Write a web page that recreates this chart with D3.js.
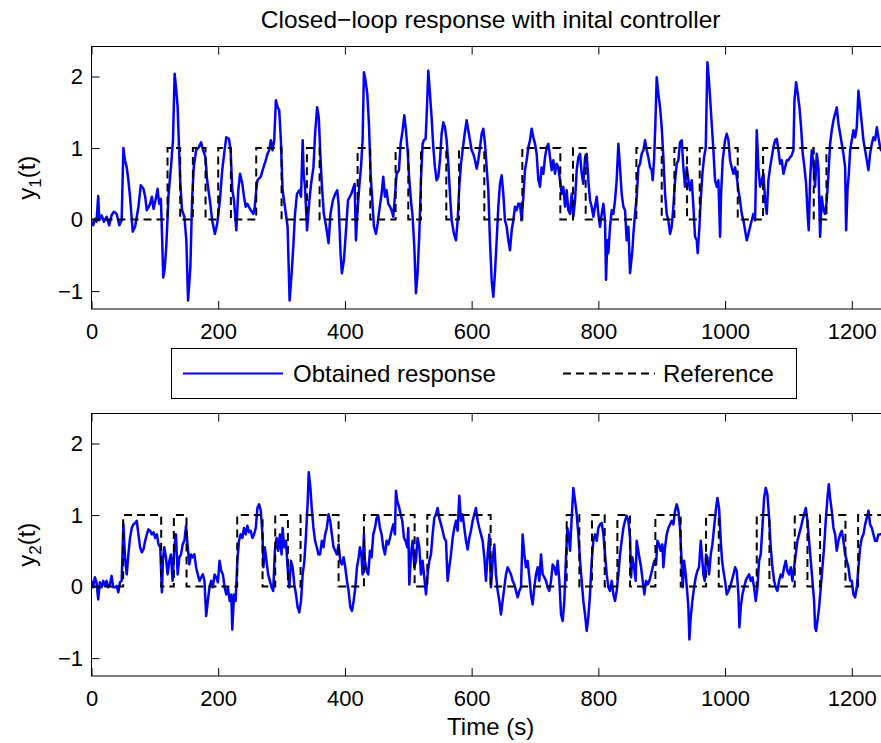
<!DOCTYPE html>
<html>
<head>
<meta charset="utf-8">
<script src="https://cdn.jsdelivr.net/npm/d3@7"></script>
<style>
  html, body { margin: 0; padding: 0; background: #fff; }
  svg { display: block; font-family: "Liberation Sans", Arial, Helvetica, sans-serif; }
</style>
</head>
<body>
<svg id="chart" width="881" height="743"></svg>
<script>
// ---- Output 1: sampled closed-loop response ----
const y1Time = [0,2.6,5.3,7.9,10.6,12.2,15.9,19.6,23.8,28,31.7,35.4,39.7,43.9,47.6,50.3,52.9,55.6,58.2,60.8,65.1,68.8,74.1,77.8,82,84.7,87.3,92.6,95.2,97.9,102.1,104.2,106.9,109.5,111.6,113.2,115.3,118,121.7,125.4,128.6,131.2,133.9,136,138.1,140.2,142.9,146.6,149.7,152.4,156.1,158.7,161.4,165.1,169.3,173,176.2,179.9,182.5,186.8,190.5,194.7,198.4,202.6,206.3,210.1,212.7,216.9,219.6,222.2,224.9,228.6,231.7,234.4,238.1,240.7,243.4,246,251.3,255.6,257.7,259.8,261.9,267.2,271.4,275.1,277.8,280.4,283.1,285.7,288.4,291,293.7,296.3,298.9,301.6,305.3,309.5,312.7,315.9,318.5,321.2,324.3,328,330.7,333.3,334.9,337,340.2,343.9,346.6,350.3,352.9,356.1,358.7,361.4,363.5,366.7,370.4,374.1,377.2,381,384.7,387.8,390,393.1,395.2,398.4,402.1,404.8,410,415.3,
  417.4,419.5,422.6,425.3,427.9,430,432.6,435.3,437.9,440.5,443.2,445.8,449,451.6,454.2,457.9,460.5,463.2,465.8,468.4,471.1,473.7,476.3,478.9,481.6,485.3,487.9,491.1,493.7,496.3,498.9,501.6,504.2,506.8,509.5,512.1,514.7,517.4,520,522.6,524.7,527.4,529.5,531.6,534.2,536.8,539.5,542.1,544.7,547.4,550,552.6,555.3,557.9,560.5,563.2,565.8,568.4,572.1,575.3,577.9,580.5,583.2,585.8,589,592.1,594.7,597.4,600,602.6,605.3,607.9,610.5,613.2,615.8,618.4,621.1,623.7,626.3,628.9,631.6,634.2,636.8,639.5,642.1,644.7,647.4,650,652.6,655.3,657.9,660.5,663.2,665.8,668.4,671.1,673.7,676.3,678.9,681.6,684.2,686.8,689.5,692.1,694.7,697.4,700,702.6,705.3,707.9,710.5,713.2,715.8,718.4,721.1,723.7,726.3,728.9,731.6,734.2,736.8,739.5,742.1,744.7,747.4,750,752.6,755.3,757.9,760.5,763.2,765.8,768.4,771.1,773.7,776.3,779,781.6,784.2,786.8,789.5,792.1,794.7,797.4,800,802.6,805.3,807.9,810.5,812.1,814.2,815.8,818.4,821.1,823.7,826.3,828.9,831.6,834.2,836.8,839.5,842.1,844.7,847.4,850,
  853.7,855.3,857.9,860.5,863.2,865.8,868.4,871.1,873.7,876.3,878.9,881.6,884.2,885.8,887.9,890,892.1,894.7,897.4,900,902.6,905.3,907.9,910.5,913.2,915.8,918.4,921.1,923.7,926.3,928.9,931.6,934.2,936.8,939.5,942.1,944.7,947.4,950,952.6,955.3,956.8,959.5,961.6,964.2,966.8,969.5,972.1,974.2,976.3,978.9,981.6,984.2,986.8,989.5,992.1,993.7,996.3,1000,1002.6,1005.3,1007.9,1010.5,1013.2,1015.8,1018.4,1021.1,1023.7,1026.3,1028.9,1031.6,1034.2,1036.8,1039.5,1042.1,1044.7,1047.4,1050,1052.6,1055.3,1057.9,1060.5,1063.2,1065.8,1068.4,1071.1,1073.7,1076.3,1078.9,1081.6,1084.2,1086.8,1089.5,1092.1,1094.7,1097.4,1100,1102.6,1105.3,1107.9,1109.5,1112.1,1114.7,1117.4,1120,1122.6,1125.3,1127.9,1130.5,1132.1,1134.2,1136.8,1139.5,1142.1,1144.7,1147.4,1150,1152.6,1155.3,1157.9,1160.5,1163.2,1165.8,1168.4,1171.1,1173.7,1176.3,1178.9,1181.6,1184.2,1186.8,1189.5,1191.1,1193.2,1195.3,1197.4,1200,1202.6,1205.3,1207.9,1210.5,1213.2,1215.8,1218.4,1221.1,1223.7,1226.3,1228.9,1231.6,1234.2,1236.8,1239.5,1242.1,1244.7,1246.3,1250,1255,1260];
const y1Value = [-0.03,-0.08,0.01,-0.03,0.33,-0.01,0.06,-0.03,0.04,-0.08,0.06,0.11,0.08,-0.08,-0.01,1.0,0.83,0.73,0.55,0.32,-0.17,-0.1,0.18,0.48,0.43,0.32,0.13,0.22,0.32,0.15,0.32,0.43,0.22,0.29,-0.29,-0.81,-0.71,-0.38,0.36,0.73,1.11,2.04,1.8,1.57,1.01,0.5,0.13,0.04,-0.29,-1.13,-0.66,0.27,0.73,0.97,1.01,1.08,0.97,0.87,0.55,0.27,-0.01,-0.2,-0.06,0.27,0.69,0.97,1.15,1.13,0.97,0.41,0.27,-0.15,0.41,0.64,0.5,0.32,0.18,0.22,0.13,0.08,0.18,0.39,0.55,0.6,0.73,0.83,0.92,0.97,1.11,0.97,1.11,1.67,1.57,1.53,1.11,0.41,0.18,-0.1,-1.13,-0.75,-0.38,0.08,0.36,0.41,0.32,1.11,0.64,0.46,-0.15,0.27,0.5,0.73,1.2,1.57,1.43,0.87,0.5,0.08,-0.1,-0.33,0.08,0.27,0.36,0.41,0.22,-0.47,-0.75,-0.57,-0.1,0.27,0.36,0.5,
  -0.29,0.08,0.46,0.73,1.11,2.06,1.94,1.76,1.34,0.64,0.27,-0.1,-0.2,-0.06,0.13,0.36,0.6,0.32,0.41,0.22,0.18,0.13,0.04,0.32,0.64,0.69,1.06,1.25,1.46,1.25,0.97,0.55,0.27,0.04,-0.38,-1.03,-0.75,-0.2,0.55,1.06,1.11,1.13,1.57,2.08,1.76,1.43,1.01,0.73,0.55,0.6,0.83,1.2,1.36,1.29,1.11,0.78,0.36,-0.01,-0.2,-0.29,-0.01,0.46,0.78,0.97,1.2,1.39,1.25,1.11,0.97,0.92,0.83,0.71,0.83,1.01,1.2,1.27,1.06,0.73,0.41,-0.29,-0.85,-1.08,-0.75,-0.29,0.18,0.5,0.62,0.36,-0.01,-0.1,-0.29,-0.43,-0.15,-0.01,0.18,0.13,0.22,0.22,-0.01,0.32,0.69,0.83,1.01,1.11,1.27,1.15,1.06,0.92,0.55,0.46,0.73,0.64,0.87,1.01,1.06,0.87,0.69,0.83,0.64,0.78,0.73,0.55,0.36,0.46,0.18,0.41,0.13,0.08,0.36,0.04,0.27,0.69,0.87,0.92,0.64,0.5,0.87,0.92,0.55,0.27,0.18,0.04,0.18,0.32,0.08,-0.1,0.08,0.22,-0.01,-0.84,-0.29,-0.47,-0.1,0.13,0.08,0.27,0.55,1.06,0.73,0.36,0.18,0.13,-0.29,-0.1,-0.75,
  -0.43,-0.2,0.08,0.32,0.73,0.78,0.92,0.97,1.11,0.97,0.87,0.73,0.69,0.55,0.83,1.34,1.99,1.76,1.57,1.29,0.87,0.36,0.08,-0.01,-0.2,-0.1,0.18,0.55,0.78,0.83,1.08,1.11,0.73,0.46,0.73,0.55,0.41,0.55,0.18,-0.24,-0.29,-0.47,-0.1,0.27,0.64,0.87,1.01,2.2,1.99,1.71,1.34,0.97,0.55,0.46,0.55,-0.24,0.36,0.83,1.11,1.2,1.11,0.83,0.73,0.64,0.73,0.6,0.41,0.27,0.08,-0.01,-0.15,-0.29,-0.2,-0.1,-0.01,0.08,-0.01,1.25,0.73,0.46,0.55,0.64,0.27,0.08,0.55,0.73,0.87,1.01,1.11,1.13,0.97,0.78,0.83,0.64,0.73,0.83,0.83,0.87,0.9,0.97,1.67,1.92,1.76,1.57,1.29,0.92,0.73,0.5,0.04,-0.15,0.55,0.97,0.78,0.46,0.92,0.73,-0.24,0.32,0.13,0.08,0.27,0.64,1.06,1.25,1.39,1.48,1.57,1.34,1.2,1.06,0.92,0.73,-0.15,0.41,0.64,0.97,1.11,1.25,1.15,1.29,1.8,1.57,1.34,1.11,0.97,0.83,0.69,0.92,1.06,1.15,1.11,1.29,1.15,1.01,0.97,1.0,1.0,1.0];

// ---- Output 2: sampled closed-loop response ----
const y2Time = [0,2.6,5.3,7.9,10.6,13.2,15.9,18.5,21.2,23.8,26.5,29.1,31.7,34.4,37,39.7,42.3,45,47.6,50.3,52.9,55.6,58.2,60.8,63.5,66.1,68.8,71.4,74.1,76.7,79.4,82,84.7,87.3,89.9,92.6,95.2,97.9,100.5,103.2,105.8,108.5,111.1,112.7,114.8,117.5,120.1,122.8,125.4,128,130.7,133.3,136,138.6,141.3,143.9,146.6,149.2,151.9,154.5,157.1,159.8,162.4,165.1,167.7,170.4,173,175.7,178.3,181,183.6,186.2,188.9,191.5,194.2,196.8,199.5,202.1,204.8,207.4,210.1,212.7,215.3,218,220.6,222.2,224.9,227.5,230.2,232.8,235.4,238.1,240.7,243.4,246,248.7,251.3,254,256.6,259.3,261.9,264.6,267.2,269.8,271.4,273.5,276.2,278.8,281.5,284.1,286.8,289.4,292.1,294.7,297.4,300,301.6,304.2,306.9,309.5,312.2,314.8,317.5,320.1,322.8,325.4,328,330.7,333.3,336,338.6,341.3,342.9,345.5,347.6,350.3,352.9,355.6,358.2,360.8,363.5,366.1,368.8,371.4,374.1,376.7,379.4,382,384.7,387.3,390,392.6,395.2,397.9,400.5,403.2,405.8,408.5,411.1,413.8,416.4,419,421.7,
  423.7,426.3,427.9,430,431.6,434.2,436.8,439.5,442.1,444.7,447.4,450,452.6,455.3,457.9,460.5,463.2,465.8,468.4,471.1,473.7,476.3,478.9,480.5,482.6,485.8,487.9,490.5,493.2,495.8,498.4,500,501.6,504.2,506.8,509.5,512.1,514.7,517.4,520,522.6,525.3,527.9,530.5,533.2,535.8,538.4,541.1,543.7,546.3,548.9,551.6,554.2,556.8,559.5,562.1,564.7,567.4,570,572.6,575.3,577.9,580.5,583.2,585.8,588.4,591.1,593.7,596.3,598.9,601.6,604.2,606.8,609.5,612.1,614.7,617.4,620,622.6,625.3,627.9,630.5,633.2,635.8,638.4,641.1,643.7,646.3,648.9,651.6,654.2,656.8,659.5,662.1,664.7,667.4,670,672.6,675.3,677.9,680.5,683.2,685.8,688.4,691.1,693.7,696.3,698.9,701.6,704.2,706.8,709.5,712.1,714.7,717.4,720,722.6,725.3,727.9,730.5,733.2,735.8,738.4,741.1,743.7,746.3,748.9,751.1,753.2,755.3,757.9,760.5,763.2,765.8,768.4,771.1,773.7,776.3,779,781.6,784.2,786.8,789.5,792.1,794.7,797.4,800,802.6,805.3,807.9,810.5,813.2,815.8,818.4,821.1,823.7,826.3,828.9,831.6,834.2,836.8,839.5,842.1,844.7,847.4,
  850,851.6,853.7,856.3,858.9,860.5,862.1,864.7,867.4,870,872.6,875.3,877.9,880.5,883.2,885.8,888.4,891.1,893.2,895.8,898.4,901.1,902.6,905.3,907.9,910.5,913.2,915.8,918.4,921.1,923.7,926.3,928.9,931.1,933.2,935.3,937.9,940.5,942.1,943.7,945.8,948.4,951.1,953.7,956.3,958.9,961.6,963.7,965.8,967.9,970,972.1,974.7,977.4,980,982.6,985.3,987.9,990.5,993.2,995.3,997.4,1000,1002.6,1005.3,1007.9,1010.5,1013.2,1015.8,1018.4,1021.1,1022.6,1024.7,1027.4,1030,1032.6,1035.3,1037.9,1040.5,1043.2,1045.8,1048.4,1051.1,1053.7,1056.3,1058.9,1061.6,1064.2,1066.8,1069.5,1072.1,1074.7,1077.4,1080,1082.6,1085.3,1087.9,1090.5,1093.2,1095.8,1098.4,1101.1,1103.7,1106.3,1108.9,1111.6,1114.2,1116.8,1119.5,1122.1,1124.7,1127.4,1130,1132.6,1135.3,1137.9,1140.5,1142.1,1143.7,1145.8,1148.4,1151.1,1153.7,1156.3,1158.9,1161.6,1163.7,1165.8,1168.4,1171.1,1173.7,1176.3,1178.9,1181.6,1184.2,1186.8,1189.5,1192.1,1194.7,1197.4,1200,1202.6,1205.3,1207.9,1210.5,1213.2,1215.8,1218.4,1221.1,1223.7,1226.3,1228.9,1231.6,1234.2,1236.8,1239.5,1242.1,1244.7,1250,1255,1260];
const y2Value = [0.08,-0.01,0.13,0.06,-0.18,0.06,-0.01,0.08,0.01,0.08,-0.01,0.03,0.15,-0.01,-0.01,0.01,-0.08,0.06,0.08,0.87,0.41,0.17,0.45,0.68,0.82,0.87,0.89,0.92,0.73,0.55,0.48,0.52,0.64,0.73,0.8,0.78,0.73,0.76,0.68,0.73,0.59,0.55,-0.08,0.36,0.55,0.41,0.17,0.36,0.45,0.08,0.55,0.73,0.17,0.41,0.45,0.59,0.64,0.85,0.55,0.31,0.45,0.41,0.45,0.27,0.17,0.08,0.13,0.17,0.08,-0.41,-0.2,-0.01,0.08,-0.01,0.17,0.13,0.06,0.36,0.22,0.17,-0.01,-0.11,-0.01,-0.2,-0.11,-0.6,-0.11,-0.2,0.36,0.64,0.73,0.68,0.82,0.73,0.85,0.76,0.78,0.68,0.73,0.82,1.1,1.15,1.06,0.73,0.27,0.55,0.36,0.17,0.08,-0.01,-0.06,0.5,0.68,0.5,0.73,0.45,0.82,0.55,0.64,0.27,-0.01,0.36,0.27,0.03,-0.11,-0.29,-0.36,-0.2,0.17,0.36,0.73,1.2,1.6,1.38,1.1,0.82,0.64,0.55,0.45,0.45,0.64,0.55,0.73,0.82,1.01,0.92,0.73,0.55,0.5,0.45,0.59,0.36,0.31,0.41,0.27,0.08,-0.06,-0.29,-0.34,-0.2,-0.01,0.27,0.41,
  0.55,0.41,0.17,0.73,0.36,0.22,0.17,0.5,0.41,0.73,0.82,0.96,0.99,0.82,0.73,0.55,0.45,0.64,0.59,0.68,0.78,0.87,0.73,1.34,1.2,1.1,1.01,0.92,0.68,0.64,0.55,0.82,0.03,0.45,0.64,0.27,0.36,0.68,0.55,0.17,0.36,0.13,-0.11,0.17,0.36,0.45,0.73,0.96,1.01,1.1,0.96,0.87,0.78,0.68,0.64,0.08,0.27,0.45,0.68,0.82,0.92,0.78,1.27,0.92,1.01,0.82,0.64,0.52,0.68,0.78,0.92,1.01,1.1,0.92,0.82,0.73,0.64,0.41,0.08,0.45,0.73,-0.01,0.36,0.59,0.17,-0.06,-0.2,-0.39,-0.2,-0.01,0.17,0.27,0.22,0.17,0.08,0.03,-0.06,-0.15,-0.06,-0.01,0.73,0.45,0.27,0.36,0.13,-0.11,-0.25,-0.01,0.17,0.27,0.08,0.45,0.17,0.13,0.08,-0.01,-0.06,0.08,0.31,0.27,0.17,0.36,0.08,-0.39,-0.48,-0.2,0.41,0.82,0.73,0.5,0.96,1.38,1.2,1.01,0.73,0.36,0.08,-0.2,-0.39,-0.62,-0.43,-0.11,0.36,0.64,0.73,0.64,0.82,0.87,0.89,0.73,0.45,0.17,-0.01,-0.06,0.08,-0.11,-0.2,-0.06,0.17,0.45,0.64,0.82,0.92,0.99,0.92,
  0.69,0.13,0.41,0.27,0.08,0.64,0.55,0.41,0.27,0.08,-0.11,0.08,0.03,0.08,0.17,0.27,0.36,0.31,0.64,0.59,0.5,0.59,0.27,0.55,0.73,0.82,0.87,0.92,0.87,1.06,1.15,1.06,0.82,0.41,-0.01,0.36,0.17,-0.11,-0.29,-0.74,-0.43,-0.2,-0.01,0.13,0.22,0.27,0.64,0.41,0.17,0.08,0.45,0.41,0.17,0.45,0.59,0.82,1.06,1.24,1.1,0.64,0.36,0.22,0.08,-0.11,-0.06,-0.01,0.08,0.17,0.27,0.22,-0.11,-0.57,-0.29,-0.11,-0.01,0.08,0.13,0.17,0.08,0.13,-0.01,-0.2,-0.01,0.36,0.45,0.82,1.24,1.38,1.29,0.96,0.55,0.27,0.08,-0.01,-0.06,0.08,0.17,0.13,0.27,0.36,0.22,0.17,0.27,0.08,0.27,0.45,0.64,0.73,0.82,0.92,1.01,1.1,0.92,0.64,0.36,0.08,-0.2,-0.57,-0.62,-0.48,-0.29,-0.01,0.27,0.55,0.92,1.24,1.43,1.24,1.06,0.82,0.73,0.5,0.64,0.73,0.78,0.64,0.45,0.36,0.27,0.08,0.08,-0.11,-0.15,-0.01,0.27,0.55,0.68,0.73,0.87,0.96,1.06,0.87,0.82,0.73,0.64,0.64,0.73,0.73,0.75,0.75,0.75];

// ---- Reference set-points: switching instants and levels (held until next switch) ----
const ref1Switch = [0,120,140,160,180,200,220,260,300,340,360,420,440,480,500,520,560,580,620,680,740,760,780,860,900,920,940,960,1020,1060,1140,1160,1260];
const ref1Level  = [0,1,0,1,0,1,0,1,0,1,0,1,0,1,0,1,0,1,0,1,0,1,0,1,0,1,0,1,0,1,0,1,1];
const ref2Switch = [0,50,110,130,150,230,270,290,310,330,390,430,510,530,630,750,770,790,810,830,850,890,930,970,990,1050,1070,1110,1130,1150,1190,1210,1260];
const ref2Level  = [0,1,0,1,0,1,0,1,0,1,0,1,0,1,0,1,0,1,0,1,0,1,0,1,0,1,0,1,0,1,0,1,1];

const xTicks = [0,200,400,600,800,1000,1200];
const yTicks = [-1,0,1,2];
const titleText = "Closed\u2212loop response with inital controller";
const xLabelText = "Time (s)";
const legendNames = ["Obtained response", "Reference"];

// ---- Layout ----
const svg = d3.select("#chart");
const left = 91.5, right = 889.8;
const panels = [
  { top: 46.5, bottom: 309, t: y1Time, v: y1Value, rs: ref1Switch, rl: ref1Level, sub: "1", xLabel: false },
  { top: 413.5, bottom: 676, t: y2Time, v: y2Value, rs: ref2Switch, rl: ref2Level, sub: "2", xLabel: true }
];

const x = d3.scaleLinear().domain([0, 1260]).range([left, right]);
const font = "'Liberation Sans', Arial, Helvetica, sans-serif";
const intFmt = d3.format("d");

panels.forEach((p, i) => {
  const y = d3.scaleLinear().domain([-1.25, 2.42]).range([p.bottom, p.top]);
  const g = svg.append("g");

  const clipId = "clip" + i;
  svg.append("clipPath").attr("id", clipId)
    .append("rect").attr("x", left).attr("y", p.top)
    .attr("width", right - left).attr("height", p.bottom - p.top);

  const plot = g.append("g").attr("clip-path", `url(#${clipId})`);

  const resp = p.t.map((t, k) => [t, p.v[k]]);
  plot.append("path")
    .datum(resp)
    .attr("fill", "none")
    .attr("stroke", "#0000ff")
    .attr("stroke-width", 2.5)
    .attr("stroke-linejoin", "round")
    .attr("d", d3.line().x(d => x(d[0])).y(d => y(d[1])));

  const ref = p.rs.map((t, k) => [t, p.rl[k]]);
  plot.append("path")
    .datum(ref)
    .attr("fill", "none")
    .attr("stroke", "#000")
    .attr("stroke-width", 2)
    .attr("stroke-dasharray", "8,5")
    .attr("d", d3.line().curve(d3.curveStepAfter).x(d => x(d[0])).y(d => y(d[1])));

  // axes with inward ticks on all four sides
  const axB = g.append("g").attr("transform", `translate(0,${p.bottom})`)
    .call(d3.axisBottom(x).tickValues(xTicks).tickSizeInner(-8).tickSizeOuter(0).tickPadding(14).tickFormat(intFmt));
  const axT = g.append("g").attr("transform", `translate(0,${p.top})`)
    .call(d3.axisTop(x).tickValues(xTicks).tickSizeInner(-8).tickSizeOuter(0).tickFormat(""));
  const axL = g.append("g").attr("transform", `translate(${left},0)`)
    .call(d3.axisLeft(y).tickValues(yTicks).tickSizeInner(-8).tickSizeOuter(0).tickPadding(8.5).tickFormat(intFmt));
  const axR = g.append("g").attr("transform", `translate(${right},0)`)
    .call(d3.axisRight(y).tickValues(yTicks).tickSizeInner(-8).tickSizeOuter(0).tickFormat(""));
  [axB, axT, axL, axR].forEach(a => {
    a.select(".domain").remove();
    a.selectAll("line").attr("stroke", "#000").attr("stroke-width", 1);
    a.selectAll("text").attr("fill", "#000").style("font-family", font).style("font-size", "22px");
  });

  g.append("rect").attr("x", left).attr("y", p.top)
    .attr("width", right - left).attr("height", p.bottom - p.top)
    .attr("fill", "none").attr("stroke", "#000").attr("stroke-width", 1);

  // y-label with subscript
  const cy = (p.top + p.bottom) / 2;
  const yl = svg.append("text")
    .attr("transform", `translate(35,${cy}) rotate(-90)`)
    .attr("text-anchor", "middle")
    .style("font-family", font).style("font-size", "24px");
  yl.append("tspan").text("y");
  yl.append("tspan").attr("dy", 6).style("font-size", "17px").text(p.sub);
  yl.append("tspan").attr("dy", -6).text("(t)");

  if (p.xLabel) {
    svg.append("text").attr("x", (left + right) / 2).attr("y", 735)
      .attr("text-anchor", "middle")
      .style("font-family", font).style("font-size", "24px")
      .text(xLabelText);
  }
});

// title
svg.append("text").attr("x", (left + right) / 2).attr("y", 28)
  .attr("text-anchor", "middle")
  .style("font-family", font).style("font-size", "24.5px")
  .text(titleText);

// legend
const lg = svg.append("g");
lg.append("rect").attr("x", 171.5).attr("y", 348.5).attr("width", 625).attr("height", 50)
  .attr("fill", "#fff").attr("stroke", "#000").attr("stroke-width", 1);
lg.append("line").attr("x1", 183).attr("x2", 283).attr("y1", 373.5).attr("y2", 373.5)
  .attr("stroke", "#0000ff").attr("stroke-width", 2.2);
lg.append("text").attr("x", 293).attr("y", 382)
  .style("font-family", font).style("font-size", "24px").text(legendNames[0]);
lg.append("line").attr("x1", 563).attr("x2", 655).attr("y1", 373.5).attr("y2", 373.5)
  .attr("stroke", "#000").attr("stroke-width", 2).attr("stroke-dasharray", "8,5");
lg.append("text").attr("x", 663).attr("y", 382)
  .style("font-family", font).style("font-size", "24px").text(legendNames[1]);
</script>
</body>
</html>
